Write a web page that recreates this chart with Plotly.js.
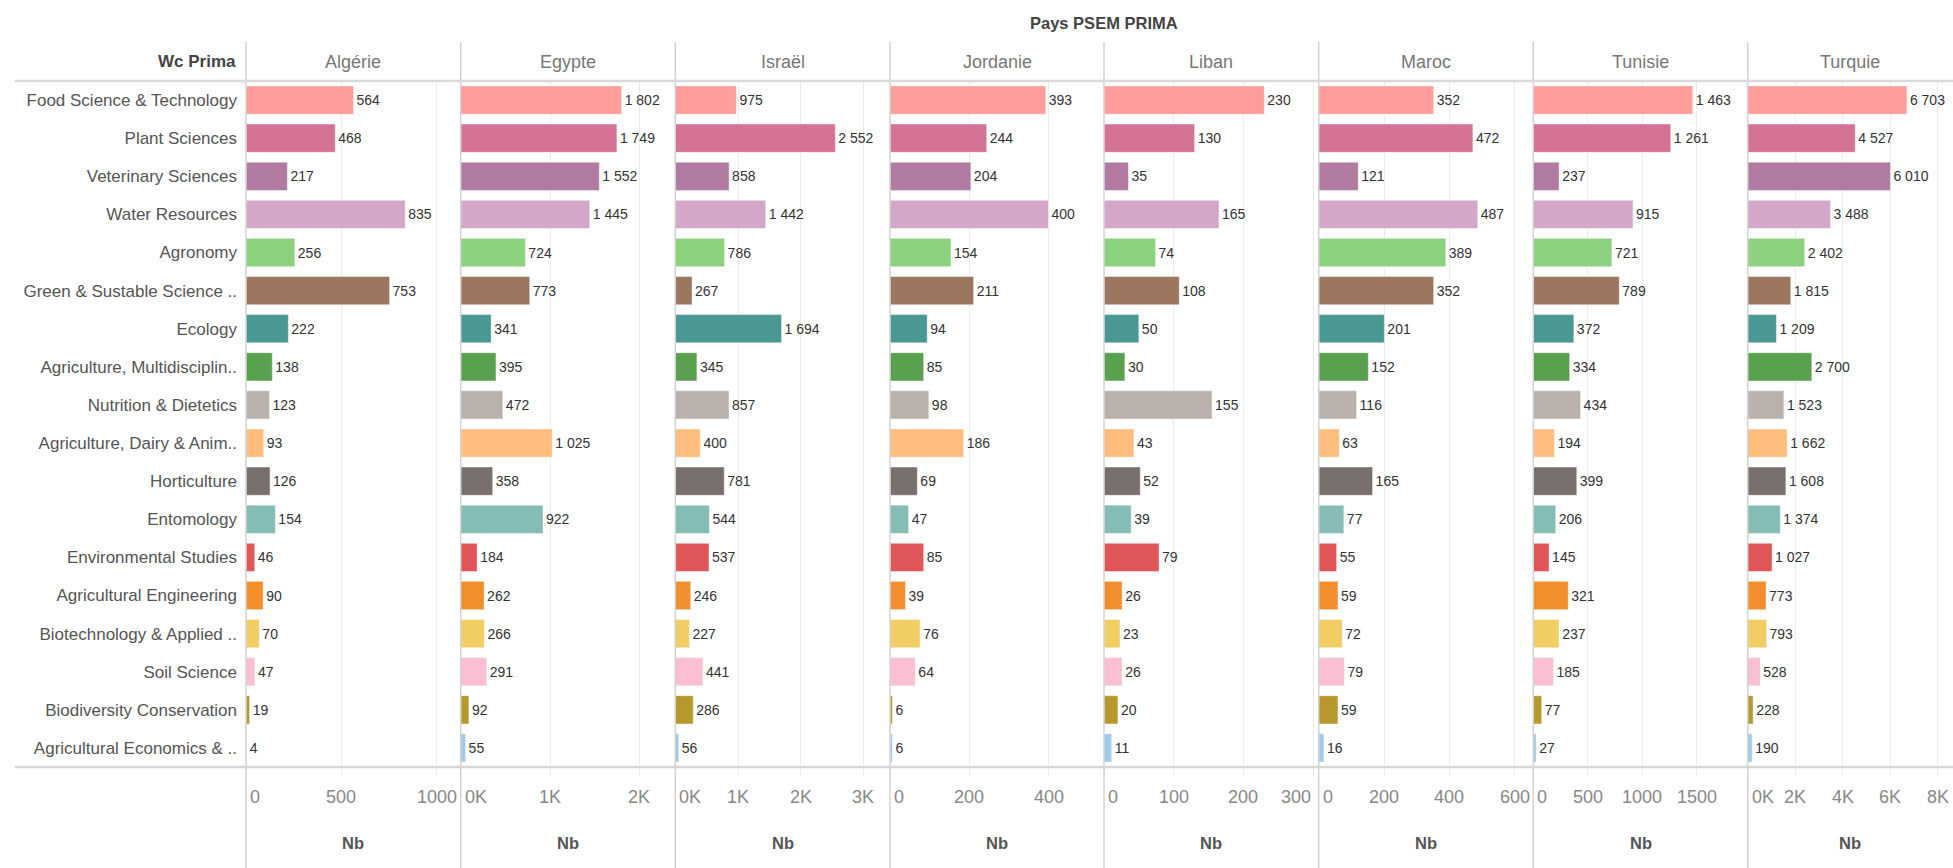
<!DOCTYPE html>
<html>
<head>
<meta charset="utf-8">
<script src="https://cdn.plot.ly/plotly-3.0.1.min.js"></script>
<style>
html,body{margin:0;padding:0;background:#fff;}
#chart{width:1953px;height:868px;}
</style>
</head>
<body>
<div id="chart"></div>
<script>
// ---------------- data ----------------
const categories = [
  "Food Science & Technology",
  "Plant Sciences",
  "Veterinary Sciences",
  "Water Resources",
  "Agronomy",
  "Green & Sustable Science ..",
  "Ecology",
  "Agriculture, Multidisciplin..",
  "Nutrition & Dietetics",
  "Agriculture, Dairy & Anim..",
  "Horticulture",
  "Entomology",
  "Environmental Studies",
  "Agricultural Engineering",
  "Biotechnology & Applied ..",
  "Soil Science",
  "Biodiversity Conservation",
  "Agricultural Economics & .."
];
const countries = ["Algérie","Egypte","Israël","Jordanie","Liban","Maroc","Tunisie","Turquie"];

const nbAlgerie  = [564, 468, 217, 835, 256, 753, 222, 138, 123, 93, 126, 154, 46, 90, 70, 47, 19, 4];
const nbEgypte   = [1802, 1749, 1552, 1445, 724, 773, 341, 395, 472, 1025, 358, 922, 184, 262, 266, 291, 92, 55];
const nbIsrael   = [975, 2552, 858, 1442, 786, 267, 1694, 345, 857, 400, 781, 544, 537, 246, 227, 441, 286, 56];
const nbJordanie = [393, 244, 204, 400, 154, 211, 94, 85, 98, 186, 69, 47, 85, 39, 76, 64, 6, 6];
const nbLiban    = [230, 130, 35, 165, 74, 108, 50, 30, 155, 43, 52, 39, 79, 26, 23, 26, 20, 11];
const nbMaroc    = [352, 472, 121, 487, 389, 352, 201, 152, 116, 63, 165, 77, 55, 59, 72, 79, 59, 16];
const nbTunisie  = [1463, 1261, 237, 915, 721, 789, 372, 334, 434, 194, 399, 206, 145, 321, 237, 185, 77, 27];
const nbTurquie  = [6703, 4527, 6010, 3488, 2402, 1815, 1209, 2700, 1523, 1662, 1608, 1374, 1027, 773, 793, 528, 228, 190];

const seriesValues = [nbAlgerie, nbEgypte, nbIsrael, nbJordanie, nbLiban, nbMaroc, nbTunisie, nbTurquie];

const tickValsList = [
  [0, 500, 1000],
  [0, 1000, 2000],
  [0, 1000, 2000, 3000],
  [0, 200, 400],
  [0, 100, 200, 300],
  [0, 200, 400, 600],
  [0, 500, 1000, 1500],
  [0, 2000, 4000, 6000, 8000]
];
const tickTextList = [
  ["0", "500", "1000"],
  ["0K", "1K", "2K"],
  ["0K", "1K", "2K", "3K"],
  ["0", "200", "400"],
  ["0", "100", "200", "300"],
  ["0", "200", "400", "600"],
  ["0", "500", "1000", "1500"],
  ["0K", "2K", "4K", "6K", "8K"]
];
const measureName = "Nb";

// ---------------- styles / layout config ----------------
const colors = ["#FF9D9A","#D37295","#B07AA1","#D4A6C8","#8CD17D","#9D7660","#499894","#59A14F",
                "#BAB0AC","#FFBE7D","#79706E","#86BCB6","#E15759","#F28E2B","#F1CE63","#FABFD2",
                "#B6992D","#A0CBE8"];
const axisMax = [1126, 2403, 3424, 540, 308, 657, 1967, 8644];

const W = 1953, H = 868;
const M = {l: 246, r: 0, t: 81, b: 101};
const panelEdgesPx = [246, 460.7, 675.3, 890, 1104, 1318.7, 1533.3, 1747.7, 1953];
const plotW = W - M.l - M.r, plotH = H - M.t - M.b;
const px2x = p => (p - M.l) / plotW;
const px2y = p => (H - M.b - p) / plotH;

const FONT = "'Liberation Sans', Arial, sans-serif";

const traces = [];
const layout = {
  width: W, height: H,
  margin: M,
  paper_bgcolor: "#fff", plot_bgcolor: "#fff",
  showlegend: false,
  separators: ", ",
  bargap: 0.258,
  font: {family: FONT, color: "#555"},
  yaxis: {
    type: "category",
    autorange: "reversed",
    anchor: "x",
    showgrid: false, zeroline: false, showline: false,
    ticks: "",
    ticklabelstandoff: 8,
    tickfont: {family: FONT, size: 17, color: "#555"},
    fixedrange: true
  },
  shapes: [],
  annotations: []
};

seriesValues.forEach((vals, i) => {
  const ax = i === 0 ? "x" : "x" + (i + 1);
  const axName = i === 0 ? "xaxis" : "xaxis" + (i + 1);
  traces.push({
    type: "bar",
    orientation: "h",
    x: vals,
    y: categories,
    xaxis: ax,
    yaxis: "y",
    marker: {color: colors, line: {width: 1, color: "rgba(255,255,255,0.45)"}},
    texttemplate: "%{x:,}",
    textposition: "outside",
    constraintext: "none",
    cliponaxis: false,
    textfont: {family: FONT, size: 14, color: "#333"},
    hoverinfo: "skip"
  });
  const d0 = px2x(panelEdgesPx[i]), d1 = px2x(panelEdgesPx[i + 1]);
  const panelPx = panelEdgesPx[i + 1] - panelEdgesPx[i];
  layout[axName] = {
    domain: [d0, d1],
    anchor: "y",
    range: [0, axisMax[i]],
    tickmode: "array",
    tickvals: tickValsList[i],
    ticktext: tickTextList[i],
    showticklabels: false,
    showgrid: true, gridcolor: "#ececec", gridwidth: 1,
    zeroline: false, showline: false,
    ticks: "outside", ticklen: 8, tickcolor: "#ececec",
    fixedrange: true
  };
  // tick labels (Tableau style: first label left-aligned, labels kept inside the pane)
  tickValsList[i].forEach((v, k) => {
    const remainPx = (axisMax[i] - v) / axisMax[i] * panelPx;
    let anchor = "center", shift = 0;
    if (v === 0) { anchor = "left"; shift = 2; }
    else if (remainPx < 11) { anchor = "right"; shift = 0; }
    layout.annotations.push({
      xref: ax, yref: "paper",
      x: v, y: px2y(797),
      xanchor: anchor, yanchor: "middle", xshift: shift,
      text: tickTextList[i][k], showarrow: false,
      font: {family: FONT, size: 18, color: "#888"}
    });
  });
  // axis title
  layout.annotations.push({
    xref: "paper", yref: "paper",
    x: (d0 + d1) / 2, y: px2y(843),
    xanchor: "center", yanchor: "middle",
    text: "<b>" + measureName + "</b>", showarrow: false,
    font: {family: FONT, size: 16.5, color: "#555"}
  });
  // column header
  layout.annotations.push({
    xref: "paper", yref: "paper",
    x: (d0 + d1) / 2, y: px2y(62),
    xanchor: "center", yanchor: "middle",
    text: countries[i], showarrow: false,
    font: {family: FONT, size: 18, color: "#777"}
  });
  // vertical divider
  layout.shapes.push({
    type: "line", xref: "paper", yref: "paper",
    x0: d0, x1: d0, y0: px2y(42), y1: px2y(H),
    line: {color: "#d2d2d2", width: 1.5}
  });
});

// header / axis horizontal lines
layout.shapes.push({
  type: "line", xref: "paper", yref: "paper",
  x0: px2x(15), x1: 1, y0: 1, y1: 1,
  line: {color: "#dadada", width: 2.5}
});
layout.shapes.push({
  type: "line", xref: "paper", yref: "paper",
  x0: px2x(15), x1: 1, y0: 0, y1: 0,
  line: {color: "#d6d6d6", width: 2.5}
});

// row header title and facet title
layout.annotations.push({
  xref: "paper", yref: "paper",
  x: px2x(238), y: px2y(62),
  xanchor: "right", yanchor: "middle",
  text: "<b>Wc Prima</b>", showarrow: false,
  font: {family: FONT, size: 17, color: "#444"}
});
layout.annotations.push({
  xref: "paper", yref: "paper",
  x: px2x(1103.5), y: px2y(23),
  xanchor: "center", yanchor: "middle",
  text: "<b>Pays PSEM PRIMA</b>", showarrow: false,
  font: {family: FONT, size: 16.5, color: "#444"}
});

Plotly.newPlot("chart", traces, layout, {staticPlot: true, displayModeBar: false});
</script>
</body>
</html>
